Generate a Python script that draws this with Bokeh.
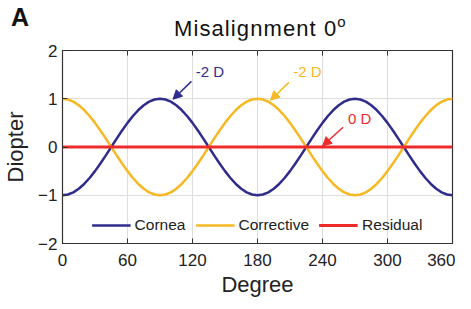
from bokeh.plotting import figure
from bokeh.models import (Arrow, NormalHead, Label, Legend, LegendItem,
                          FixedTicker, Range1d, Div)
from bokeh.layouts import column
from bokeh.embed import file_html
from bokeh.resources import INLINE

degree = [0, 5, 10, 15, 20, 25, 30, 35, 40, 45, 50, 55, 60, 65, 70, 75, 80, 85,
          90, 95, 100, 105, 110, 115, 120, 125, 130, 135, 140, 145, 150, 155, 160,
          165, 170, 175, 180, 185, 190, 195, 200, 205, 210, 215, 220, 225, 230,
          235, 240, 245, 250, 255, 260, 265, 270, 275, 280, 285, 290, 295, 300,
          305, 310, 315, 320, 325, 330, 335, 340, 345, 350, 355, 360]
cornea = [-1.0, -0.985, -0.94, -0.866, -0.766, -0.643, -0.5, -0.342, -0.174, 0.0,
          0.174, 0.342, 0.5, 0.643, 0.766, 0.866, 0.94, 0.985, 1.0, 0.985, 0.94,
          0.866, 0.766, 0.643, 0.5, 0.342, 0.174, 0.0, -0.174, -0.342, -0.5,
          -0.643, -0.766, -0.866, -0.94, -0.985, -1.0, -0.985, -0.94, -0.866,
          -0.766, -0.643, -0.5, -0.342, -0.174, 0.0, 0.174, 0.342, 0.5, 0.643,
          0.766, 0.866, 0.94, 0.985, 1.0, 0.985, 0.94, 0.866, 0.766, 0.643, 0.5,
          0.342, 0.174, 0.0, -0.174, -0.342, -0.5, -0.643, -0.766, -0.866, -0.94,
          -0.985, -1.0]
corrective = [1.0, 0.985, 0.94, 0.866, 0.766, 0.643, 0.5, 0.342, 0.174, 0.0,
              -0.174, -0.342, -0.5, -0.643, -0.766, -0.866, -0.94, -0.985, -1.0,
              -0.985, -0.94, -0.866, -0.766, -0.643, -0.5, -0.342, -0.174, 0.0,
              0.174, 0.342, 0.5, 0.643, 0.766, 0.866, 0.94, 0.985, 1.0, 0.985,
              0.94, 0.866, 0.766, 0.643, 0.5, 0.342, 0.174, 0.0, -0.174, -0.342,
              -0.5, -0.643, -0.766, -0.866, -0.94, -0.985, -1.0, -0.985, -0.94,
              -0.866, -0.766, -0.643, -0.5, -0.342, -0.174, 0.0, 0.174, 0.342,
              0.5, 0.643, 0.766, 0.866, 0.94, 0.985, 1.0]
residual_degree = [0, 360]
residual = [0.0, 0.0]

x_ticks = [0, 60, 120, 180, 240, 300, 360]
y_ticks = [-2, -1, 0, 1, 2]

BLUE = "#2f2c8c"
YELLOW = "#f6b823"
RED = "#ee2b2b"
FONT = "Liberation Sans"
AXC = "#333333"

header = Div(
    width=455, height=30,
    text=(
        '<div style="position:relative;width:455px;height:30px;'
        'font-family:\'Liberation Sans\',Arial,sans-serif;color:#111;">'
        '<span style="position:absolute;left:6px;top:0px;font-size:25px;'
        'line-height:25px;font-weight:bold;">A</span>'
        '<span style="position:absolute;left:169px;top:13px;font-size:22px;'
        'line-height:22px;letter-spacing:1.1px;white-space:nowrap;">'
        'Misalignment 0'
        '<span style="font-size:15px;position:relative;top:-9px;'
        'margin-left:0px;">o</span></span>'
        '</div>'
    ),
)

p = figure(width=455, height=259, output_backend="svg", toolbar_location=None,
           x_range=Range1d(0, 360), y_range=Range1d(-2, 2),
           min_border_left=61, min_border_right=3, min_border_top=10,
           min_border_bottom=55, background_fill_color="white",
           border_fill_color="white")
p.outline_line_color = AXC
p.outline_line_width = 1.2

p.xaxis.ticker = FixedTicker(ticks=x_ticks)
p.yaxis.ticker = FixedTicker(ticks=y_ticks)
p.xgrid.ticker = FixedTicker(ticks=x_ticks)
p.ygrid.ticker = FixedTicker(ticks=y_ticks)
p.grid.grid_line_color = "#dedede"
p.grid.grid_line_width = 1

for ax in (p.xaxis[0], p.yaxis[0]):
    ax.major_tick_in = 5
    ax.major_tick_out = 0
    ax.minor_tick_in = 0
    ax.minor_tick_out = 0
    ax.axis_line_color = AXC
    ax.major_tick_line_color = AXC
    ax.major_label_text_font = FONT
    ax.major_label_text_font_size = "17px"
    ax.major_label_text_color = "#222222"
    ax.axis_label_text_font = FONT
    ax.axis_label_text_font_size = "22px"
    ax.axis_label_text_font_style = "normal"
    ax.axis_label_text_color = "#222222"

p.xaxis.axis_label = "Degree"
p.yaxis.axis_label = "Diopter"
p.xaxis.major_label_standoff = 10
p.xaxis.axis_label_standoff = 3
p.yaxis.major_label_standoff = 5
p.yaxis.axis_label_standoff = 7

# inward ticks on the top and right edges of the box
p.ray(x=x_ticks, y=2, length=5, length_units="screen", angle=-90,
      angle_units="deg", line_color=AXC, line_width=1)
p.ray(x=360, y=y_ticks, length=5, length_units="screen", angle=180,
      angle_units="deg", line_color=AXC, line_width=1)

r1 = p.line(degree, cornea, line_color=BLUE, line_width=2.5)
r2 = p.line(degree, corrective, line_color=YELLOW, line_width=2.5)
r3 = p.line(residual_degree, residual, line_color=RED, line_width=3)

legend = Legend(items=[LegendItem(label="Cornea", renderers=[r1]),
                       LegendItem(label="Corrective", renderers=[r2]),
                       LegendItem(label="Residual", renderers=[r3])],
                orientation="horizontal", location="bottom_center",
                background_fill_alpha=0, border_line_alpha=0,
                label_text_font=FONT, label_text_font_size="15.5px",
                label_text_color="#222222", glyph_width=39, label_standoff=4,
                spacing=10, margin=4, padding=4)
p.add_layout(legend, "center")

# annotations: text position, arrow start, arrow end (data units)
anns = [("-2 D", BLUE, 123, 1.57, 119, 1.36, 102, 0.99),
        ("-2 D", YELLOW, 213, 1.57, 209, 1.34, 192, 0.97),
        ("0 D", RED, 263.5, 0.6, 259, 0.41, 240, 0.02)]
for txt, col, tx, ty, x0, y0, x1, y1 in anns:
    p.add_layout(Label(x=tx, y=ty, text=txt, text_color=col, text_font=FONT,
                       text_font_size="15px", text_baseline="middle",
                       text_align="left"))
    p.add_layout(Arrow(x_start=x0, y_start=y0, x_end=x1, y_end=y1,
                       line_color=col, line_width=1.5,
                       end=NormalHead(size=9, fill_color=col, line_color=col)))

layout = column(header, p, spacing=0)
open("out.html", "w").write(file_html(layout, INLINE))
